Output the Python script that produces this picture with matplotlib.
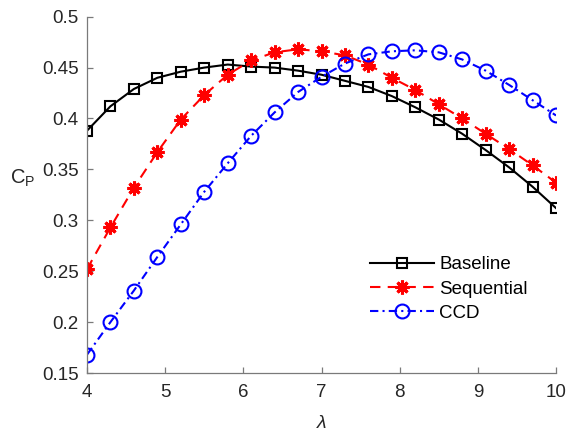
import matplotlib
matplotlib.use('Agg')
import matplotlib.pyplot as plt
import numpy as np

# ── Data ────────────────────────────────────────────────────────────
tsr = [4.0, 4.3, 4.6, 4.9, 5.2, 5.5, 5.8, 6.1, 6.4, 6.7, 7.0,
       7.3, 7.6, 7.9, 8.2, 8.5, 8.8, 9.1, 9.4, 9.7, 10.0]

cp_baseline = [0.388, 0.412, 0.429, 0.440, 0.446, 0.450, 0.453, 0.451, 0.450, 0.447, 0.443,
               0.437, 0.431, 0.422, 0.411, 0.399, 0.385, 0.369, 0.352, 0.333, 0.312]
cp_sequential = [0.252, 0.293, 0.332, 0.367, 0.399, 0.423, 0.443, 0.457, 0.465, 0.468, 0.466,
                 0.462, 0.453, 0.440, 0.428, 0.414, 0.400, 0.385, 0.370, 0.354, 0.337]
cp_ccd = [0.168, 0.200, 0.231, 0.264, 0.296, 0.328, 0.356, 0.383, 0.406, 0.426, 0.441,
          0.454, 0.463, 0.466, 0.467, 0.465, 0.458, 0.447, 0.433, 0.418, 0.403]

series_labels = ['Baseline', 'Sequential', 'CCD']

x_ticks = [4, 5, 6, 7, 8, 9, 10]
y_ticks = [0.15, 0.2, 0.25, 0.3, 0.35, 0.4, 0.45, 0.5]
y_tick_labels = ['0.15', '0.2', '0.25', '0.3', '0.35', '0.4', '0.45', '0.5']

# ── Style ───────────────────────────────────────────────────────────
plt.rcParams['font.family'] = ['Liberation Sans', 'DejaVu Sans']
plt.rcParams['mathtext.fontset'] = 'custom'
plt.rcParams['mathtext.rm'] = 'Liberation Sans'
plt.rcParams['mathtext.it'] = 'Liberation Sans:italic'

W, H = 569, 436
fig = plt.figure(figsize=(W / 100, H / 100), dpi=100)
ax = fig.add_axes([87 / W, 1 - 373 / H, (556 - 87) / W, (373 - 16.7) / H])

asterisk = (8, 2, 0)
ax.plot(tsr, cp_baseline, color='k', linestyle='-', linewidth=1.5,
        marker='s', markersize=7.5, markerfacecolor='none', markeredgewidth=1.5,
        label=series_labels[0])
ax.plot(tsr, cp_sequential, color='#ff0000', linestyle=(0, (5, 3.5)), linewidth=1.5,
        marker=asterisk, markersize=10, markeredgewidth=2.2,
        label=series_labels[1])
ax.plot(tsr, cp_ccd, color='#0000ff', linestyle=(0, (4, 2, 1, 2)), linewidth=1.5,
        marker='o', markersize=10, markerfacecolor='none', markeredgewidth=1.5,
        label=series_labels[2])

# ── Axes (MATLAB-like, box off, ticks inward) ───────────────────────
ax.set_xlim(4, 10)
ax.set_ylim(0.15, 0.5)
ax.set_xticks(x_ticks)
ax.set_yticks(y_ticks)
ax.set_yticklabels(y_tick_labels)
for s in ['top', 'right']:
    ax.spines[s].set_visible(False)
for s in ['left', 'bottom']:
    ax.spines[s].set_color('#7a7a7a')
    ax.spines[s].set_linewidth(0.9)
ax.tick_params(axis='both', direction='in', length=4, width=0.9,
               color='#7a7a7a', labelsize=13.5, labelcolor='#262626')
ax.tick_params(axis='x', pad=8)
ax.tick_params(axis='y', pad=6)

fig.text(10 / W, 1 - 178 / H, r'C$_\mathrm{P}$', fontsize=14.5, color='#262626',
         ha='left', va='center')
fig.text(321.5 / W, 1 - 423 / H, r'$\it{\lambda}$', fontsize=14, color='#262626',
         ha='center', va='center')

ax.legend(loc='center left', bbox_to_anchor=(370 / W, 1 - 289 / H),
          bbox_transform=fig.transFigure, frameon=False, fontsize=13.5,
          borderpad=0, borderaxespad=0, handlelength=3.4, handletextpad=0.3,
          labelspacing=0.38, labelcolor='#000000')

fig.savefig('out.png', dpi=100)
plt.close(fig)
